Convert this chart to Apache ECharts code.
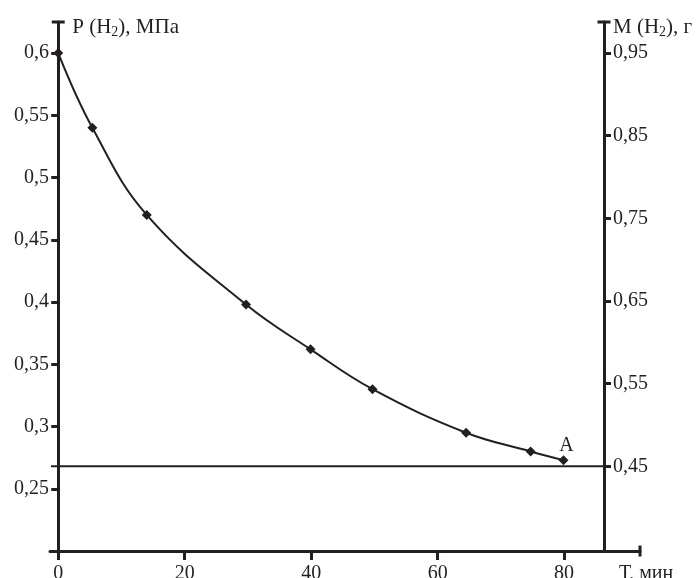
<!doctype html>
<html lang="ru">
<head>
<meta charset="utf-8"/>
<title>P (H2), M (H2) vs T</title>
<style>
  html, body { margin: 0; padding: 0; background: #fff; }
  #chart { width: 696px; height: 578px; }
</style>
</head>
<body>
<div id="chart"></div>
<script src="https://cdn.jsdelivr.net/npm/echarts@6/dist/echarts.min.js"></script>
<script>
// time, min
const timeMin = [0, 5.4, 14, 29.7, 39.9, 49.7, 64.5, 74.7, 79.9];
// P (H2), MPa
const pressure = [0.6, 0.54, 0.47, 0.398, 0.362, 0.33, 0.295, 0.28, 0.273];
// horizontal reference at M (H2) = 0.45 g
const refMass = 0.45;
const refSpan = [-1.15, 86.3];

const xTicks = [0, 20, 40, 60, 80];
const leftTicks = [0.25, 0.3, 0.35, 0.4, 0.45, 0.5, 0.55, 0.6];
const rightTicks = [0.45, 0.55, 0.65, 0.75, 0.85, 0.95];

const INK = "#231f20";
const FONT = '"Liberation Serif", "Times New Roman", serif';
const comma = v => String(+(+v).toFixed(2)).replace(".", ",");

const rich = {
  n: { fontFamily: FONT, fontSize: 21, color: INK },
  sub: { fontFamily: FONT, fontSize: 14, color: INK, padding: [11, 0, 0, 0] },
};
const cap = { show: true, lineStyle: { color: INK, width: 3 }, symbol: ["none", "rect"], symbolSize: [13, 3] };

const chart = echarts.init(document.getElementById("chart"), null, { renderer: "canvas" });
chart.setOption({
  animation: false,
  grid: { left: 50, right: 56, top: 22, bottom: 27, containLabel: false, outerBoundsMode: "none" },
  xAxis: {
    type: "value", min: -1.3, max: 92,
    name: "Т, мин", nameLocation: "end", nameGap: -21,
    nameTextStyle: { fontFamily: FONT, fontSize: 20, color: INK, align: "left", verticalAlign: "top", padding: [13, 0, 0, 0] },
    axisLine: { onZero: false, show: true, lineStyle: { color: INK, width: 3 }, symbol: ["none", "rect"], symbolSize: [11, 3] },
    axisTick: { show: true, length: 9, lineStyle: { color: INK, width: 3 }, customValues: xTicks },
    axisLabel: { fontFamily: FONT, fontSize: 20, color: INK, margin: 13, customValues: xTicks },
    splitLine: { show: false },
  },
  yAxis: [
    {
      type: "value", min: 0.2, max: 0.625, position: "left",
      name: "{n|P (H}{sub|2}{n|), МПа}", nameLocation: "end", nameGap: -5,
      nameTextStyle: { align: "left", verticalAlign: "middle", padding: [0, 0, 0, 14], rich },
      axisLine: Object.assign({}, cap, { onZero: true }),
      axisTick: { show: true, length: 7, lineStyle: { color: INK, width: 3 }, customValues: leftTicks },
      axisLabel: { fontFamily: FONT, fontSize: 20, color: INK, margin: 1, formatter: comma, customValues: leftTicks },
      splitLine: { show: false },
    },
    {
      type: "value", min: 0.3475, max: 0.9875, position: "right", offset: -36,
      name: "{n|M (H}{sub|2}{n|), г}", nameLocation: "end", nameGap: -5,
      nameTextStyle: { align: "left", verticalAlign: "middle", padding: [0, 0, 0, 9], rich },
      axisLine: Object.assign({}, cap, { onZero: false }),
      axisTick: { show: true, length: 7, lineStyle: { color: INK, width: 3 }, customValues: rightTicks },
      axisLabel: { fontFamily: FONT, fontSize: 20, color: INK, margin: 9, formatter: comma, customValues: rightTicks },
      splitLine: { show: false },
    },
  ],
  series: [
    {
      type: "line",
      yAxisIndex: 0,
      smooth: 0.4,
      data: timeMin.map((t, i) => ({
        value: [t, pressure[i]],
        label: i === timeMin.length - 1
          ? { show: true, formatter: "A", position: "top", distance: 5, offset: [3, 6], fontFamily: FONT, fontSize: 20, color: INK }
          : undefined,
      })),
      symbol: "diamond",
      symbolSize: 10,
      itemStyle: { color: INK },
      lineStyle: { color: INK, width: 2 },
      z: 3,
    },
    {
      type: "line",
      yAxisIndex: 1,
      data: refSpan.map(t => [t, refMass]),
      symbol: "none",
      lineStyle: { color: INK, width: 2 },
      clip: false,
      z: 2,
    },
  ],
});
</script>
</body>
</html>
